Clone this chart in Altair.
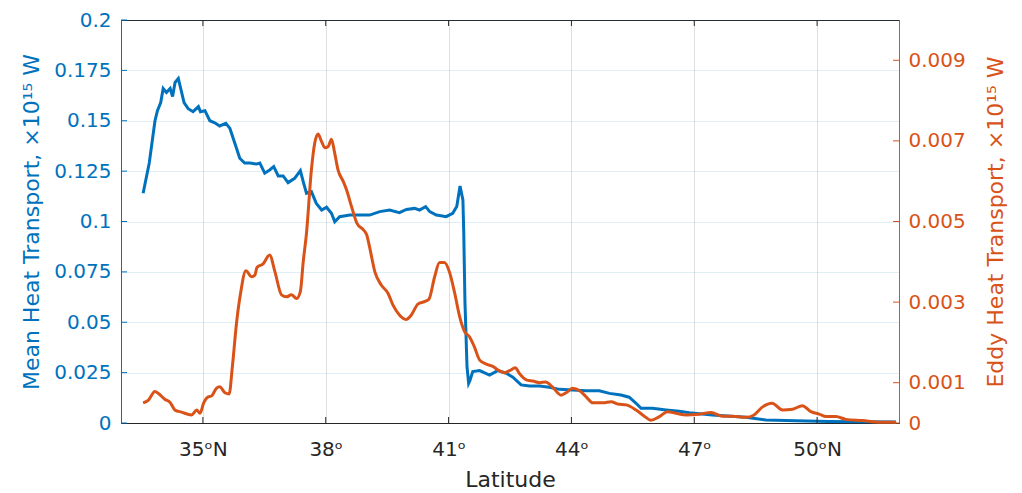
import altair as alt
import pandas as pd

# Mean heat transport (left axis, x10^15 W)
lat_mean = [33.54, 33.69, 33.83, 33.89, 33.97, 34.03, 34.11, 34.20, 34.26, 34.32, 34.40,
            34.54, 34.64, 34.76, 34.89, 34.94, 35.05, 35.17, 35.29, 35.41, 35.56, 35.66,
            35.78, 35.90, 36.02, 36.15, 36.31, 36.39, 36.51, 36.63, 36.73, 36.84, 36.96,
            37.08, 37.24, 37.38, 37.46, 37.53, 37.65, 37.77, 37.90, 38.02, 38.14, 38.22,
            38.34, 38.59, 38.83, 39.07, 39.32, 39.56, 39.80, 39.97, 40.17, 40.29, 40.44,
            40.54, 40.70, 40.85, 40.94, 41.10, 41.20, 41.28, 41.35, 41.37, 41.40, 41.45,
            41.49, 41.52, 41.59, 41.76, 42.00, 42.20, 42.41, 42.57, 42.77, 42.98, 43.22,
            43.46, 43.71, 44.03, 44.36, 44.68, 44.93, 45.21, 45.41, 45.58, 45.70, 45.98,
            46.31, 46.63, 46.88, 47.44, 48.26, 48.75, 49.48, 50.29, 51.10, 51.92]
mean_vals = [0.114, 0.129, 0.150, 0.155, 0.159, 0.166, 0.164, 0.166, 0.162, 0.169, 0.171,
             0.159, 0.156, 0.1545, 0.157, 0.1545, 0.155, 0.150, 0.149, 0.1474, 0.1487, 0.1462,
             0.1388, 0.1314, 0.129, 0.129, 0.1285, 0.129, 0.124, 0.1256, 0.1272, 0.1226, 0.1226,
             0.1193, 0.1214, 0.1252, 0.119, 0.114, 0.1148, 0.109, 0.1057, 0.1071, 0.1041, 0.0999,
             0.1024, 0.1032, 0.1032, 0.1032, 0.1049, 0.1057, 0.1044, 0.106, 0.1065, 0.1057, 0.1074,
             0.1049, 0.1032, 0.1027, 0.1024, 0.1041, 0.1074, 0.1176, 0.1107, 0.095, 0.060, 0.028,
             0.0197, 0.021, 0.0255, 0.026, 0.0238, 0.026, 0.0247, 0.0227, 0.0189, 0.0184, 0.0184,
             0.0177, 0.0167, 0.0164, 0.016, 0.016, 0.0147, 0.0139, 0.0128, 0.0098, 0.0073, 0.0073,
             0.0065, 0.0058, 0.0051, 0.004, 0.0028, 0.0015, 0.0011, 0.0008, 0.0006, 0.0005]

# Eddy heat transport (right axis, x10^15 W)
lat_eddy = [33.54, 33.67, 33.83, 33.95, 34.07, 34.20, 34.32, 34.48, 34.72, 34.85, 34.93,
            35.02, 35.13, 35.21, 35.33, 35.41, 35.54, 35.64, 35.72, 35.82, 35.92, 36.05,
            36.19, 36.27, 36.32, 36.47, 36.63, 36.76, 36.92, 37.04, 37.16, 37.29, 37.38,
            37.45, 37.53, 37.65, 37.73, 37.81, 37.90, 37.98, 38.06, 38.14, 38.22, 38.30,
            38.43, 38.51, 38.63, 38.76, 38.92, 39.00, 39.07, 39.20, 39.36, 39.52, 39.64,
            39.80, 39.96, 40.09, 40.25, 40.41, 40.52, 40.66, 40.78, 40.90, 41.02, 41.15,
            41.27, 41.39, 41.51, 41.63, 41.76, 41.92, 42.09, 42.20, 42.37, 42.49, 42.63,
            42.73, 42.90, 43.06, 43.22, 43.37, 43.54, 43.75, 43.87, 44.03, 44.20, 44.36,
            44.52, 44.77, 44.97, 45.13, 45.34, 45.58, 45.78, 45.94, 46.15, 46.35, 46.56,
            46.80, 47.12, 47.41, 47.69, 47.93, 48.26, 48.46, 48.67, 48.90, 49.16, 49.40,
            49.64, 49.85, 50.05, 50.22, 50.46, 50.70, 51.11, 51.52, 51.93]
eddy_vals = [0.00050, 0.00057, 0.00078, 0.00070, 0.00059, 0.00051, 0.00032, 0.00027, 0.00020, 0.00032, 0.00024,
             0.00050, 0.00065, 0.00067, 0.00086, 0.00090, 0.00075, 0.00072, 0.00140, 0.00247, 0.00322, 0.00378,
             0.00363, 0.00367, 0.00386, 0.00395, 0.00417, 0.00375, 0.00318, 0.00313, 0.00318, 0.00309, 0.00326,
             0.00400, 0.00471, 0.00628, 0.00694, 0.00717, 0.00698, 0.00683, 0.00686, 0.00704, 0.00669, 0.00628,
             0.00599, 0.00578, 0.00537, 0.00496, 0.00479, 0.00467, 0.00437, 0.00375, 0.00342, 0.00322, 0.00293,
             0.00268, 0.00257, 0.00268, 0.00295, 0.00301, 0.00307, 0.00363, 0.00398, 0.00398, 0.00375, 0.00322,
             0.00264, 0.00227, 0.00214, 0.00189, 0.00156, 0.00146, 0.00140, 0.00132, 0.00125, 0.00130, 0.00137,
             0.00123, 0.00107, 0.00104, 0.00100, 0.00102, 0.00089, 0.00069, 0.00075, 0.00086, 0.00080, 0.00065,
             0.00050, 0.00050, 0.00053, 0.00047, 0.00045, 0.00032, 0.00017, 0.00007, 0.00016, 0.00028, 0.00024,
             0.00020, 0.00022, 0.00026, 0.00017, 0.00017, 0.00014, 0.00020, 0.00040, 0.00049, 0.00032, 0.00034,
             0.00043, 0.00028, 0.00022, 0.00016, 0.00016, 0.00009, 0.00006, 0.00002, 0.00002]

x_ticks = [35, 38, 41, 44, 47, 50]
left_ticks = [0, 0.025, 0.05, 0.075, 0.1, 0.125, 0.15, 0.175, 0.2]
right_ticks = [0, 0.001, 0.003, 0.005, 0.007, 0.009]

BLUE = "#0072BD"
ORANGE = "#D95319"
DARK = "#262626"
FONT = "DejaVu Sans"
W, H, TICK = 778, 403, 6

df_mean = pd.DataFrame({"lat": lat_mean, "val": mean_vals})
df_eddy = pd.DataFrame({"lat": lat_eddy, "val": eddy_vals})
df_xt = pd.DataFrame({"lat": x_ticks})
df_lt = pd.DataFrame({"val": left_ticks})
df_rt = pd.DataFrame({"val": right_ticks})

x_enc = alt.X(
    "lat:Q",
    scale=alt.Scale(domain=[33, 52], nice=False, zero=False),
    axis=alt.Axis(
        values=x_ticks,
        labelExpr="(datum.value == 35 || datum.value == 50) ? datum.value + 'ᵒN' : datum.value + 'ᵒ'",
        title="Latitude",
        grid=True,
        gridColor=DARK,
        gridOpacity=0.15,
        domainColor=DARK,
        labelColor=DARK,
        titleColor=DARK,
        ticks=False,
        labelPadding=16,
        titlePadding=10,
    ),
)

left_scale = alt.Scale(domain=[0, 0.2], nice=False)
right_scale = alt.Scale(domain=[0, 0.01], nice=False)

mean_line = alt.Chart(df_mean).mark_line(color=BLUE, strokeWidth=3).encode(
    x=x_enc,
    y=alt.Y(
        "val:Q",
        scale=left_scale,
        axis=alt.Axis(
            values=left_ticks,
            labelExpr="format(datum.value, '.3~f')",
            title="Mean Heat Transport, ×10¹⁵ W",
            orient="left",
            grid=True,
            gridColor=BLUE,
            gridOpacity=0.12,
            domainColor=BLUE,
            labelColor=BLUE,
            titleColor=BLUE,
            ticks=False,
            labelPadding=10,
            titlePadding=10,
        ),
    ),
)

left_ticks_marks = alt.Chart(df_lt).mark_rule(color=BLUE, strokeWidth=1).encode(
    y=alt.Y("val:Q", scale=left_scale),
    x=alt.value(0),
    x2=alt.value(TICK),
)

eddy_line = alt.Chart(df_eddy).mark_line(color=ORANGE, strokeWidth=3, interpolate="monotone").encode(
    x=alt.X("lat:Q"),
    y=alt.Y(
        "val:Q",
        scale=right_scale,
        axis=alt.Axis(
            values=right_ticks,
            labelExpr="format(datum.value, '.3~f')",
            title="Eddy Heat Transport, ×10¹⁵ W",
            orient="right",
            grid=False,
            domainColor=ORANGE,
            labelColor=ORANGE,
            titleColor=ORANGE,
            titleAngle=270,
            ticks=False,
            labelPadding=9,
            titlePadding=42,
        ),
    ),
)

right_ticks_marks = alt.Chart(df_rt).mark_rule(color=ORANGE, strokeWidth=1).encode(
    y=alt.Y("val:Q", scale=right_scale),
    x=alt.value(W - TICK),
    x2=alt.value(W),
)

bottom_ticks = alt.Chart(df_xt).mark_rule(color=DARK, strokeWidth=1).encode(
    x=alt.X("lat:Q"),
    y=alt.value(H - TICK),
    y2=alt.value(H),
)
top_ticks = alt.Chart(df_xt).mark_rule(color=DARK, strokeWidth=1).encode(
    x=alt.X("lat:Q"),
    y=alt.value(0),
    y2=alt.value(TICK),
)

chart = (
    alt.layer(
        alt.layer(mean_line, left_ticks_marks),
        alt.layer(eddy_line, right_ticks_marks),
        bottom_ticks,
        top_ticks,
    )
    .resolve_scale(y="independent")
    .properties(
        width=W,
        height=H,
        autosize=alt.AutoSizeParams(type="none"),
        padding={"left": 121, "top": 20, "right": 123, "bottom": 70},
    )
    .configure_view(stroke=DARK, strokeWidth=1)
    .configure_axis(
        labelFont=FONT,
        titleFont=FONT,
        labelFontSize=20,
        titleFontSize=22,
        titleFontWeight="normal",
        domainWidth=1,
    )
)

chart.save("out.html", embed_options={"renderer": "svg", "actions": False})
